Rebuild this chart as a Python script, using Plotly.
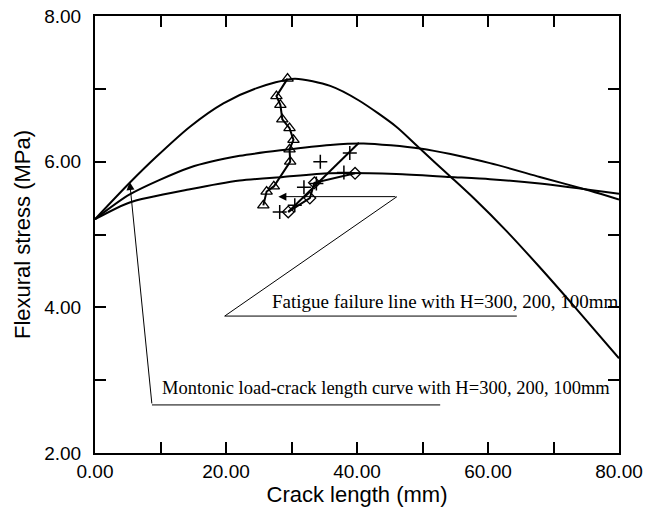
import plotly.graph_objects as go

# Monotonic load-crack length curves (H=300, 200, 100 mm)
c300_x = [0, 5.3, 9.4, 14.5, 19.6, 24.7, 30.5, 35.9, 40.3, 46.0, 49.6, 54.2, 57.8, 62.8, 67.9, 73.0, 80]
c300_y = [5.21, 5.71, 6.07, 6.48, 6.80, 7.01, 7.14, 7.04, 6.84, 6.48, 6.18, 5.80, 5.50, 5.05, 4.55, 4.03, 3.30]
c200_x = [0, 5.3, 14.5, 22.1, 28.7, 35.9, 41.0, 49.6, 60.3, 67.9, 75.6, 80]
c200_y = [5.21, 5.55, 5.92, 6.08, 6.16, 6.23, 6.25, 6.18, 5.98, 5.79, 5.60, 5.48]
c100_x = [0, 5.3, 14.5, 22.1, 28.7, 35.9, 46.0, 54.2, 60.3, 67.9, 80]
c100_y = [5.21, 5.44, 5.62, 5.74, 5.79, 5.84, 5.83, 5.79, 5.76, 5.70, 5.56]

# Fatigue test points
tri_x = [25.7, 26.2, 27.3, 29.8, 29.7, 30.3, 29.7, 28.6, 28.3, 27.7, 29.4]
tri_y = [5.40, 5.59, 5.66, 6.00, 6.17, 6.30, 6.46, 6.58, 6.78, 6.90, 7.14]
plus_x = [28.2, 30.5, 31.9, 33.8, 34.4, 38.0, 38.9]
plus_y = [5.31, 5.40, 5.65, 5.70, 6.00, 5.85, 6.12]
plus_line_x = [29.5, 40.3]
plus_line_y = [5.31, 6.26]
dia_x = [29.5, 32.8, 33.5, 39.7]
dia_y = [5.31, 5.50, 5.71, 5.84]

# Tick labels
x_tickvals = [0, 10, 20, 30, 40, 50, 60, 70, 80]
x_ticktext = ["0.00", "", "20.00", "", "40.00", "", "60.00", "", "80.00"]
y_tickvals = [2, 3, 4, 5, 6, 7, 8]
y_ticktext = ["2.00", "", "4.00", "", "6.00", "", "8.00"]

# Annotation leader lines
mono_text = "Montonic load-crack length curve with H=300, 200, 100mm"
mono_tip = (5.3, 5.72)
mono_corner = (8.7, 2.66)
mono_end = (52.7, 2.66)
mono_text_pos = (9.9, 2.89)
fat_text = "Fatigue failure line with H=300, 200, 100mm"
fat_tip = (28.0, 5.52)
fat_corner1 = (46.1, 5.52)
fat_corner2 = (19.8, 3.88)
fat_end = (64.4, 3.88)
fat_text_pos = (26.7, 4.08)

fig = go.Figure()
for cx, cy in [(c300_x, c300_y), (c200_x, c200_y), (c100_x, c100_y)]:
    fig.add_trace(go.Scatter(x=cx, y=cy, mode="lines",
                             line=dict(color="black", width=2, shape="spline", smoothing=0.7),
                             showlegend=False))

fig.add_trace(go.Scatter(x=tri_x, y=tri_y, mode="lines+markers",
                         line=dict(color="black", width=2),
                         marker=dict(symbol="triangle-up-open", size=10, color="black", line=dict(width=1.3)),
                         showlegend=False))
fig.add_trace(go.Scatter(x=plus_line_x, y=plus_line_y, mode="lines",
                         line=dict(color="black", width=2), showlegend=False))
fig.add_trace(go.Scatter(x=plus_x, y=plus_y, mode="markers",
                         marker=dict(symbol="cross-thin-open", size=10, color="black", line=dict(width=1.5, color="black")),
                         showlegend=False))
fig.add_trace(go.Scatter(x=dia_x, y=dia_y, mode="lines+markers",
                         line=dict(color="black", width=2),
                         marker=dict(symbol="diamond-open", size=9, color="black", line=dict(width=1.3)),
                         showlegend=False))

line_style = dict(color="black", width=1)
fig.add_shape(type="line", x0=mono_corner[0], y0=mono_corner[1], x1=mono_end[0], y1=mono_end[1], line=line_style)
fig.add_shape(type="line", x0=fat_corner1[0], y0=fat_corner1[1], x1=fat_corner2[0], y1=fat_corner2[1], line=line_style)
fig.add_shape(type="line", x0=fat_corner2[0], y0=fat_corner2[1], x1=fat_end[0], y1=fat_end[1], line=line_style)

fig.add_annotation(x=mono_tip[0], y=mono_tip[1], ax=mono_corner[0], ay=mono_corner[1],
                   xref="x", yref="y", axref="x", ayref="y", text="", showarrow=True,
                   arrowhead=2, arrowsize=1.6, arrowwidth=1, arrowcolor="black")
fig.add_annotation(x=fat_tip[0], y=fat_tip[1], ax=fat_corner1[0], ay=fat_corner1[1],
                   xref="x", yref="y", axref="x", ayref="y", text="", showarrow=True,
                   arrowhead=2, arrowsize=1.6, arrowwidth=1, arrowcolor="black")

fig.add_annotation(x=mono_text_pos[0], y=mono_text_pos[1], xref="x", yref="y", text=mono_text,
                   showarrow=False, xanchor="left", yanchor="middle",
                   font=dict(family="Liberation Serif", size=18.5, color="black"))
fig.add_annotation(x=fat_text_pos[0], y=fat_text_pos[1], xref="x", yref="y", text=fat_text,
                   showarrow=False, xanchor="left", yanchor="middle",
                   font=dict(family="Liberation Serif", size=19, color="black"))

axis_common = dict(showgrid=False, zeroline=False, showline=True, linecolor="black", linewidth=2,
                   mirror="ticks", ticks="inside", ticklen=11, tickwidth=2, tickcolor="black",
                   automargin=False,
                   tickfont=dict(family="Liberation Sans", size=19, color="black"))
fig.update_xaxes(range=[0, 80], tickvals=x_tickvals, ticktext=x_ticktext,
                 title=dict(text="Crack length (mm)", font=dict(family="Liberation Sans", size=22, color="black"), standoff=2),
                 **axis_common)
fig.update_yaxes(range=[2, 8], tickvals=y_tickvals, ticktext=y_ticktext, ticklabelstandoff=8,
                 title=dict(text="Flexural stress (MPa)", font=dict(family="Liberation Sans", size=22, color="black"), standoff=8),
                 **axis_common)

fig.update_layout(width=646, height=515, margin=dict(l=95, r=27, t=16, b=62),
                  plot_bgcolor="white", paper_bgcolor="white")
fig.write_html("out.html")
